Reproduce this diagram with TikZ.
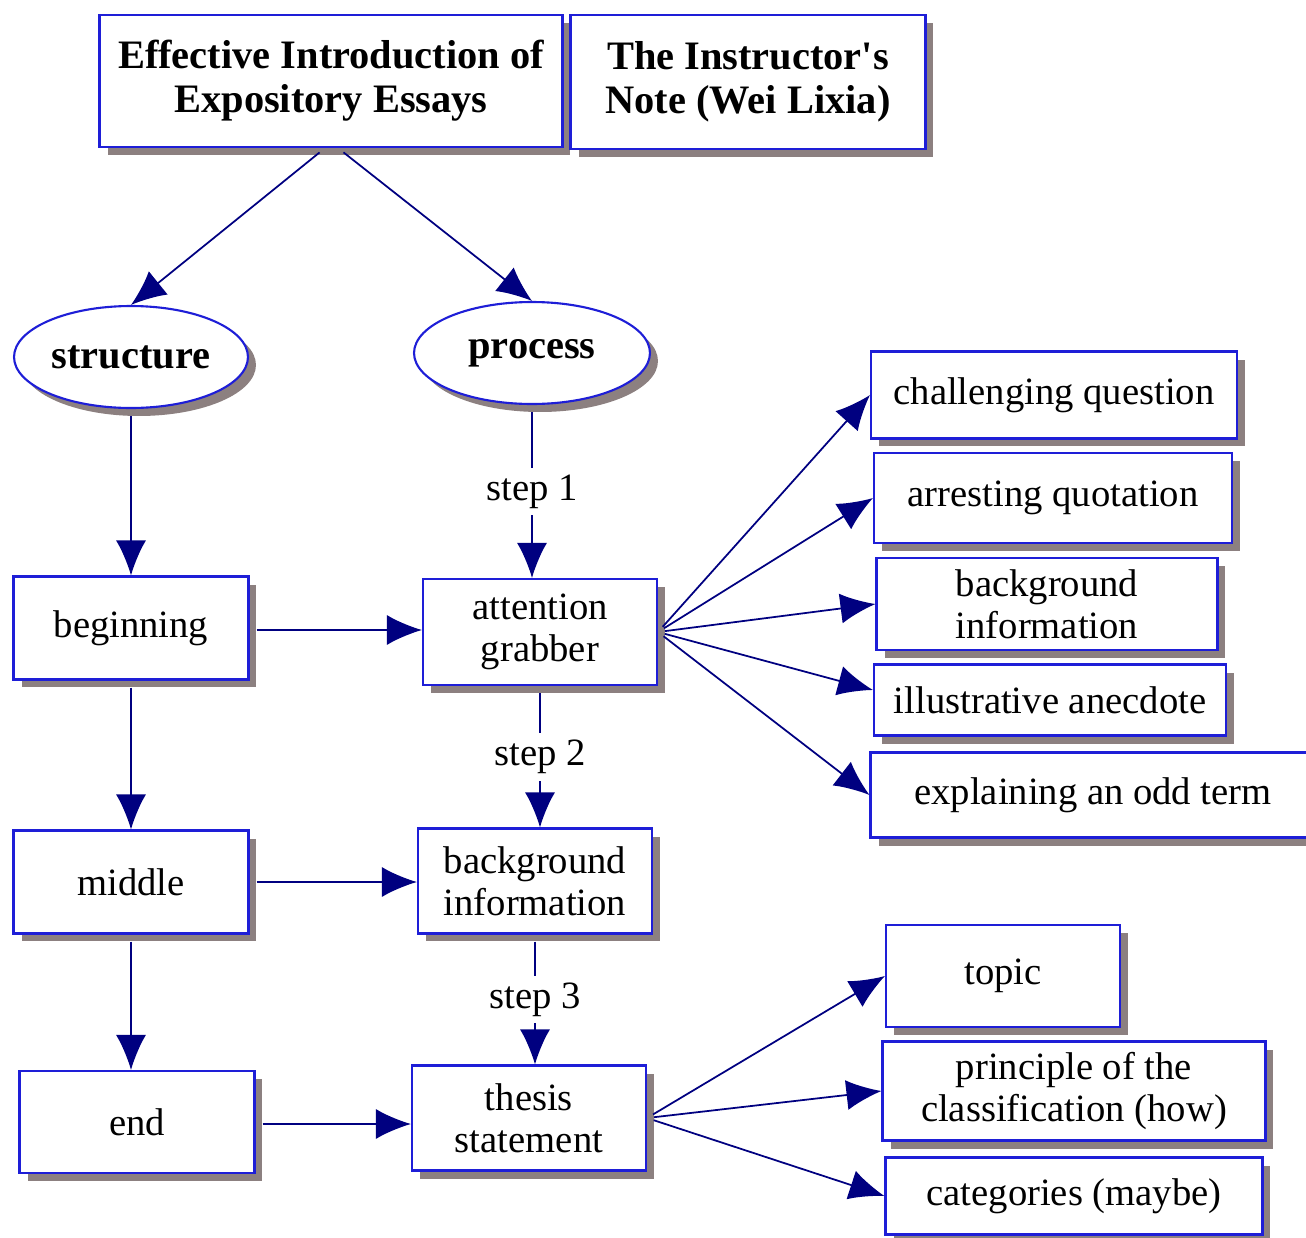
\documentclass[tikz,border=0pt]{standalone}
\usepackage{fontspec}
\setmainfont{Liberation Serif}
\usetikzlibrary{shapes.geometric, shadows, arrows.meta}
\definecolor{boxblue}{RGB}{30,30,215}
\definecolor{arrownavy}{RGB}{0,0,128}
\definecolor{shadowgray}{RGB}{140,128,128}
\begin{document}
\begin{tikzpicture}[x=0.02cm, y=-0.02cm,
    box/.style = {draw=boxblue, line width=1.2pt, fill=white, align=center, inner sep=2pt,
                  font=\fontsize{22}{24}\selectfont,
                  drop shadow={shadow xshift=0.16cm, shadow yshift=-0.16cm, fill=shadowgray, opacity=1}},
    headbox/.style = {box, font=\bfseries\fontsize{23}{25}\selectfont},
    oval/.style = {box, ellipse, inner sep=0pt, font=\bfseries\fontsize{23}{25}\selectfont},
    arr/.style = {draw=arrownavy, line width=1pt, shorten <=0.14cm, -{Latex[length=0.7cm, width=0.6cm]}},
    steplabel/.style = {fill=white, inner sep=4pt, font=\fontsize{22}{24}\selectfont}]
    \useasboundingbox (0,0) rectangle (1306,1238);
    % titles
    \node[headbox, minimum width=9.26cm, minimum height=2.64cm] (title) at (331,81) {Effective Introduction of\\Expository Essays};
    \node[headbox, minimum width=7.1cm, minimum height=2.68cm] (note) at (748,82) {The Instructor\textquotesingle s\\Note (Wei Lixia)};
    % two branches
    \node[oval, minimum width=4.68cm, minimum height=2.04cm] (structure) at (131,357) {structure};
    \node[oval, minimum width=4.72cm, minimum height=2.04cm] (process) at (532,353) {process};
    % structure column
    \node[box, minimum width=4.7cm, minimum height=2.06cm] (beginning) at (131,628) {beginning};
    \node[box, minimum width=4.7cm, minimum height=2.06cm] (middle) at (131,882) {middle};
    \node[box, minimum width=4.7cm, minimum height=2.04cm] (end) at (137,1122) {end};
    % process column
    \node[box, minimum width=4.68cm, minimum height=2.12cm] (grabber) at (540,632) {attention\\grabber};
    \node[box, minimum width=4.68cm, minimum height=2.1cm] (backinfo) at (535,881) {background\\information};
    \node[box, minimum width=4.68cm, minimum height=2.1cm] (thesis) at (529,1118) {thesis\\statement};
    % kinds of attention grabber
    \node[box, minimum width=7.32cm, minimum height=1.74cm] (question) at (1054,395) {challenging question};
    \node[box, minimum width=7.16cm, minimum height=1.8cm] (quotation) at (1053,498) {arresting quotation};
    \node[box, minimum width=6.82cm, minimum height=1.84cm] (background) at (1047,604) {background\\information};
    \node[box, minimum width=7.04cm, minimum height=1.42cm] (anecdote) at (1050,700) {illustrative anecdote};
    \node[box, minimum width=8.9cm, minimum height=1.7cm] (oddterm) at (1093,795) {explaining an odd term};
    % parts of the thesis statement
    \node[box, minimum width=4.68cm, minimum height=2.04cm] (topic) at (1003,976) {topic};
    \node[box, minimum width=7.66cm, minimum height=1.98cm] (principle) at (1074,1091) {principle of the\\classification (how)};
    \node[box, minimum width=7.54cm, minimum height=1.54cm] (categories) at (1074,1196) {categories (maybe)};
    % connectors
    \draw[arr] ([xshift=-0.12cm]title.south) -- (structure.north);
    \draw[arr] ([xshift=0.14cm]title.south) -- (process.north);
    \draw[arr] (structure.south) -- (beginning.north);
    \draw[arr] (beginning.south) -- (middle.north);
    \draw[arr] (middle.south) -- (middle.south |- end.north);
    \draw[arr] (process.south) -- node[steplabel] {step 1} (process.south |- grabber.north);
    \draw[arr] (grabber.south) -- node[steplabel] {step 2} (grabber.south |- backinfo.north);
    \draw[arr] (backinfo.south) -- node[steplabel] {step 3} (backinfo.south |- thesis.north);
    \draw[arr] ([yshift=-0.04cm]beginning.east) -- ([yshift=-0.04cm]beginning.east -| grabber.west);
    \draw[arr] (middle.east) -- (middle.east -| backinfo.west);
    \draw[arr] ([yshift=-0.04cm]end.east) -- ([yshift=-0.04cm]end.east -| thesis.west);
    \draw[arr] (grabber.east) -- (question.west);
    \draw[arr] (grabber.east) -- (quotation.west);
    \draw[arr] (grabber.east) -- (background.west);
    \draw[arr] (grabber.east) -- ([yshift=0.2cm]anecdote.west);
    \draw[arr] (grabber.east) -- (oddterm.west);
    \draw[arr] (thesis.east) -- (topic.west);
    \draw[arr] (thesis.east) -- (principle.west);
    \draw[arr] (thesis.east) -- (categories.west);
\end{tikzpicture}
\end{document}
